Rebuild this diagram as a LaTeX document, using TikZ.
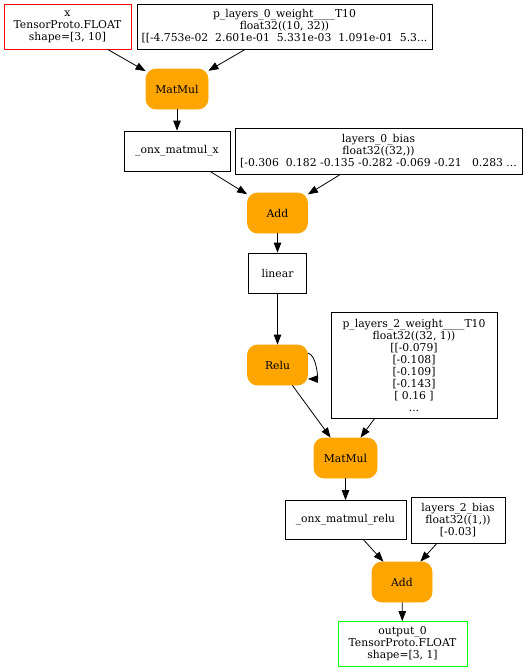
\documentclass[tikz,border=0pt]{standalone}
\usepackage{fontspec}
\setmainfont{DejaVu Serif}
\usetikzlibrary{arrows.meta}
\definecolor{oporange}{HTML}{FFA500}
\definecolor{inred}{HTML}{FF0000}
\definecolor{outgreen}{HTML}{00FF00}
\tikzset{
  base/.style={inner sep=0pt, align=center, font=\fontsize{10.8}{12}\selectfont, line width=0.8pt},
  tensor/.style={base, draw=black, rectangle},
  inbox/.style={base, draw=inred, rectangle},
  outbox/.style={base, draw=outgreen, rectangle},
  opbox/.style={base, fill=oporange, draw=oporange, rounded corners=10pt, minimum width=60pt, minimum height=40pt},
  edge/.style={line width=0.8pt, -{Triangle[length=10pt,width=7.5pt]}},
}
\begin{document}
\begin{tikzpicture}[x=1pt,y=-1pt]
\useasboundingbox (0,0) rectangle (527,672);
\node[inbox, minimum width=127pt, minimum height=45pt] (x) at (67.5,26.5) {x\\TensorProto.FLOAT\\shape=[3, 10]};
\node[tensor, minimum width=295pt, minimum height=45pt] (w0) at (284.5,26.5) {p\_layers\_0\_weight\_\_\_\_T10\\float32((10, 32))\\{[[-4.753e-02\ \ 2.601e-01\ \ 5.331e-03\ \ 1.091e-01\ \ 5.3...}};
\node[opbox, minimum width=62pt] (mm1) at (177,89) {MatMul};
\node[tensor, minimum width=106pt, minimum height=40pt] (mmx) at (177,151) {\_onx\_matmul\_x};
\node[tensor, minimum width=287pt, minimum height=46pt] (b0) at (378.5,151) {layers\_0\_bias\\float32((32,))\\{[-0.306\ \ 0.182 -0.135 -0.282 -0.069 -0.21\ \ \ 0.283 ...}};
\node[opbox] (add1) at (277.5,213) {Add};
\node[tensor, minimum width=58pt, minimum height=40pt] (lin) at (277.5,273) {linear};
\node[opbox] (relu) at (277.5,365) {Relu};
\node[tensor, minimum width=166pt, minimum height=106pt] (w2) at (414,365) {p\_layers\_2\_weight\_\_\_\_T10\\float32((32, 1))\\{[[-0.079]}\\{[-0.108]}\\{[-0.109]}\\{[-0.143]}\\{[ 0.16 ]}\\...};
\node[opbox, minimum width=63pt] (mm2) at (345.5,458) {MatMul};
\node[tensor, minimum width=121pt, minimum height=39pt] (mmr) at (345.5,520) {\_onx\_matmul\_relu};
\node[tensor, minimum width=94pt, minimum height=46pt] (b2) at (458,520) {layers\_2\_bias\\float32((1,))\\{[-0.03]}};
\node[opbox] (add2) at (402,582) {Add};
\node[outbox, minimum width=129pt, minimum height=45pt] (out) at (402.5,644) {output\_0\\TensorProto.FLOAT\\shape=[3, 1]};
\draw[edge] (x) -- (mm1);
\draw[edge] (w0) -- (mm1);
\draw[edge] (mm1) -- (mmx);
\draw[edge] (mmx) -- (add1);
\draw[edge] (b0) -- (add1);
\draw[edge] (add1) -- (lin);
\draw[edge] (lin) -- (relu);
\draw[edge] ([yshift=12pt]relu.east) .. controls +(9,2) and +(10,0) .. ([yshift=-14pt]relu.east);
\draw[edge] (relu) -- (mm2);
\draw[edge] (w2) -- (mm2);
\draw[edge] (mm2) -- (mmr);
\draw[edge] (mmr) -- (add2);
\draw[edge] (b2) -- (add2);
\draw[edge] (add2) -- (out);
\end{tikzpicture}
\end{document}
